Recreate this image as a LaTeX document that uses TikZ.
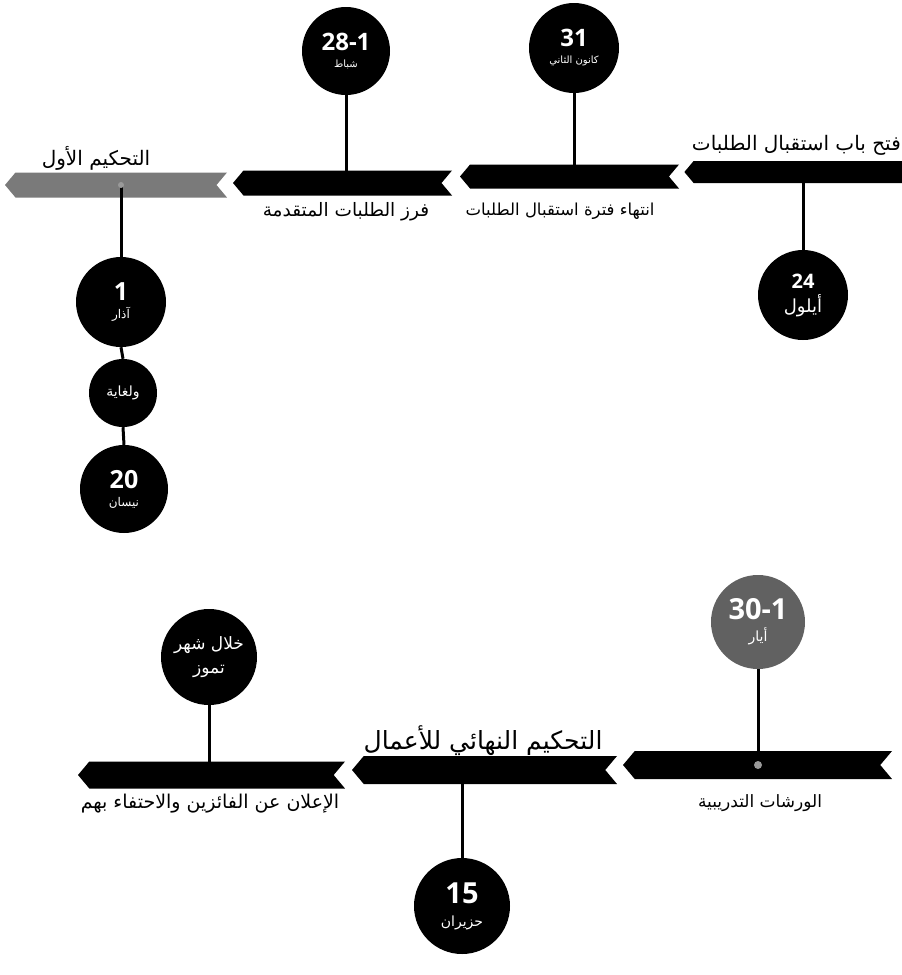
\documentclass[tikz,border=0pt]{standalone}
\usepackage{fontspec}
\setmainfont{DejaVu Sans}
\newfontfamily\arabicfont[Script=Arabic]{DejaVu Sans}
\newfontfamily\numfont{Open Sans}
\TeXXeTstate=1
\usetikzlibrary{shapes.symbols}
\newcommand{\numtxt}[2]{{\fontsize{#1}{#1}\selectfont\numfont\bfseries #2}}
\newcommand{\fsz}[1]{\fontsize{#1}{#1}\selectfont\arabicfont}
\begin{document}
\begin{tikzpicture}[x=1pt,y=-1pt,
  banner/.style={signal, signal to=west, signal from=east, signal pointer angle=100,
    fill=black, draw=none, inner sep=0pt, outer sep=0pt},
  graybanner/.style={banner, fill=black!52},
  datecirc/.style={circle, fill=black, text=white, inner sep=0pt, align=center},
  lab/.style={text=black, inner sep=0pt},
  conn/.style={line width=3pt, black},
  dotmark/.style={circle, fill=black!40, inner sep=0pt, minimum size=8pt}
]
\useasboundingbox (0,0) rectangle (902,975);

% banners top row
\node[banner, signal from=nowhere, minimum width=218pt, minimum height=22pt] (b1) at (798,172) {};
\node[banner, minimum width=219pt, minimum height=24pt] (b2) at (569.5,176.5) {};
\node[banner, minimum width=219pt, minimum height=25pt] (b3) at (342.5,183) {};
\node[graybanner, minimum width=222pt, minimum height=25pt] (b4) at (116,185) {};

% banners bottom row
\node[banner, minimum width=269pt, minimum height=28pt] (bA) at (757.5,765) {};
\node[banner, minimum width=265pt, minimum height=28pt] (bB) at (484.5,770) {};
\node[banner, minimum width=267pt, minimum height=27pt] (bC) at (211.5,775) {};

% circles
\node[datecirc, minimum size=88pt, font=\fontsize{10}{17}\selectfont] (c281) at (346,51)
  {\numtxt{24}{28-1}\\{\fsz{10}\beginR شباط\endR}};
\node[datecirc, minimum size=90pt, font=\fontsize{10}{17}\selectfont] (c31) at (574,48)
  {\numtxt{24}{31}\\{\fsz{10}\beginR كانون الثاني\endR}};
\node[datecirc, minimum size=90pt, font=\fontsize{10}{24}\selectfont] (c24) at (803,295)
  {\numtxt{20}{24}\\{\fsz{18}\beginR أيلول\endR}};
\node[datecirc, minimum size=90pt, font=\fontsize{10}{18}\selectfont] (c1) at (121,302)
  {\numtxt{25}{1}\\{\fsz{12}\beginR آذار\endR}};
\node[datecirc, minimum size=68pt] (cw) at (123,393)
  {{\fsz{14}\beginR ولغاية\endR}};
\node[datecirc, minimum size=88pt, font=\fontsize{10}{18}\selectfont] (c20) at (124,489)
  {\numtxt{25}{20}\\{\fsz{12}\beginR نيسان\endR}};
\node[datecirc, fill=black!62, minimum size=94pt, font=\fontsize{10}{22}\selectfont] (c301) at (758,622)
  {\numtxt{29}{30-1}\\{\fsz{14}\beginR أيار\endR}};
\node[datecirc, minimum size=96pt, font=\fontsize{17}{24}\selectfont] (ctm) at (209,657)
  {{\arabicfont\beginR خلال شهر\endR}\\{\arabicfont\beginR تموز\endR}};
\node[datecirc, minimum size=96pt, font=\fontsize{10}{23}\selectfont] (c15) at (462,906)
  {\numtxt{29}{15}\\{\fsz{14}\beginR حزيران\endR}};

% labels
\node[lab, anchor=east, font=\fontsize{20}{24}\selectfont\arabicfont] (t1) at (901,145) {\beginR فتح باب استقبال الطلبات\endR};
\node[lab, font=\fontsize{16.5}{20}\selectfont\arabicfont] (t2) at (560,211) {\beginR انتهاء فترة استقبال الطلبات\endR};
\node[lab, font=\fontsize{18.5}{22}\selectfont\arabicfont] (t3) at (346,212) {\beginR فرز الطلبات المتقدمة\endR};
\node[lab, font=\fontsize{20}{24}\selectfont\arabicfont] (t4) at (96,158) {\beginR التحكيم الأول\endR};
\node[lab, font=\fontsize{25}{28}\selectfont\arabicfont] (t5) at (483,741) {\beginR التحكيم النهائي للأعمال\endR};
\node[lab, font=\fontsize{19}{22}\selectfont\arabicfont] (t6) at (210,804) {\beginR الإعلان عن الفائزين والاحتفاء بهم\endR};
\node[lab, font=\fontsize{17}{20}\selectfont\arabicfont] (t7) at (760,803) {\beginR الورشات التدريبية\endR};

% connectors
\draw[conn] (c281.south) -- (c281.south |- b3.north);
\draw[conn] (c31.south) -- (c31.south |- b2.north);
\draw[conn] (b1.south -| c24.north) -- (c24.north);
\coordinate (d4) at (b4.center -| c1.north);
\draw[conn] (d4) -- (c1.north);
\node[dotmark, minimum size=6pt] (dot4) at (d4) {};
\draw[conn] (c1.south) -- (cw.north);
\draw[conn] (cw.south) -- (c20.north);
\coordinate (dA) at (bA.center -| c301.south);
\draw[conn] (c301.south) -- (dA);
\node[dotmark] (dotA) at (dA) {};
\draw[conn] (ctm.south) -- (ctm.south |- bC.north);
\draw[conn] (bB.south -| c15.north) -- (c15.north);
\end{tikzpicture}
\end{document}
